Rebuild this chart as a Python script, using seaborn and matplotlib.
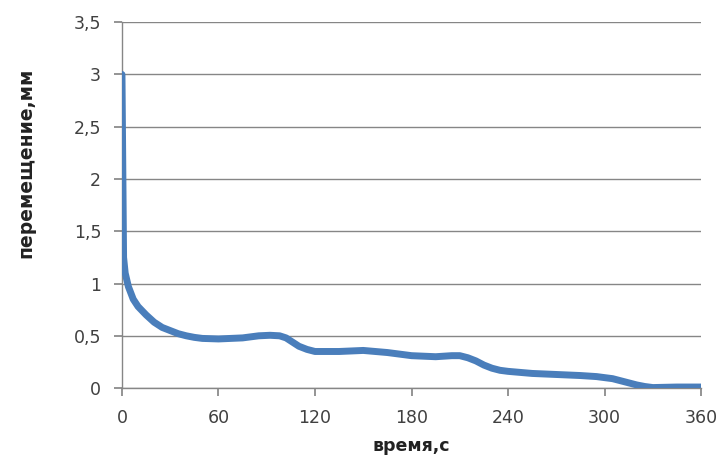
import numpy as np
import pandas as pd
import matplotlib
matplotlib.use("Agg")
import matplotlib.pyplot as plt
import seaborn as sns

### Data
time_s = [0, 1, 2, 4, 7, 10, 15, 20, 25, 30, 35, 40, 45, 50, 60, 75, 85, 92,
          98, 102, 106, 110, 115, 120, 135, 150, 165, 180, 195, 205, 210, 215,
          220, 225, 230, 235, 240, 255, 270, 285, 295, 300, 305, 310, 315, 320,
          325, 330, 345, 360]
disp_mm = [3.0, 1.25, 1.1, 0.97, 0.85, 0.78, 0.70, 0.63, 0.58, 0.55, 0.52, 0.50,
           0.485, 0.475, 0.47, 0.48, 0.50, 0.505, 0.50, 0.48, 0.44, 0.40, 0.37,
           0.35, 0.35, 0.36, 0.34, 0.31, 0.30, 0.31, 0.31, 0.29, 0.26, 0.22,
           0.19, 0.17, 0.16, 0.14, 0.13, 0.12, 0.11, 0.10, 0.09, 0.07, 0.05,
           0.03, 0.015, 0.005, 0.01, 0.01]
x_ticks = [0, 60, 120, 180, 240, 300, 360]
y_ticks = [0, 0.5, 1, 1.5, 2, 2.5, 3, 3.5]

df = pd.DataFrame({"t": time_s, "s": disp_mm})

sns.set_theme(style="white")
plt.rcParams["font.family"] = ["DejaVu Sans"]

fig = plt.figure(figsize=(7.23, 4.62), dpi=100)
ax = fig.add_axes([0.1687, 0.160, 0.801, 0.792])

sns.lineplot(data=df, x="t", y="s", ax=ax, color="#4A7EBB", linewidth=5,
             solid_capstyle="round", solid_joinstyle="round", zorder=3)

ax.set_xlim(0, 360)
ax.set_ylim(0, 3.5)
ax.set_xticks(x_ticks)
ax.set_yticks(y_ticks)
ax.set_xticklabels([str(v) for v in x_ticks])
ax.set_yticklabels([("%g" % v).replace(".", ",") for v in y_ticks])
ax.yaxis.grid(True, color="#868686", linewidth=1)
ax.xaxis.grid(False)
for side in ["top", "right"]:
    ax.spines[side].set_visible(False)
for side in ["left", "bottom"]:
    ax.spines[side].set_color("#868686")
    ax.spines[side].set_linewidth(1)
ax.tick_params(axis="both", which="major", direction="out", length=6,
               color="#868686", labelsize=12.5, labelcolor="#404040",
               bottom=True, left=True)
ax.tick_params(axis="x", pad=9)
ax.tick_params(axis="y", pad=9)
ax.set_xlabel("время,с", fontsize=12.5, fontweight="bold", color="#222222")
ax.set_ylabel("перемещение,мм", fontsize=13.5, fontweight="bold", color="#222222")
ax.xaxis.set_label_coords(0.5, -0.135)
ax.yaxis.set_label_coords(-0.15, 0.615)

fig.savefig("out.png", dpi=100)
